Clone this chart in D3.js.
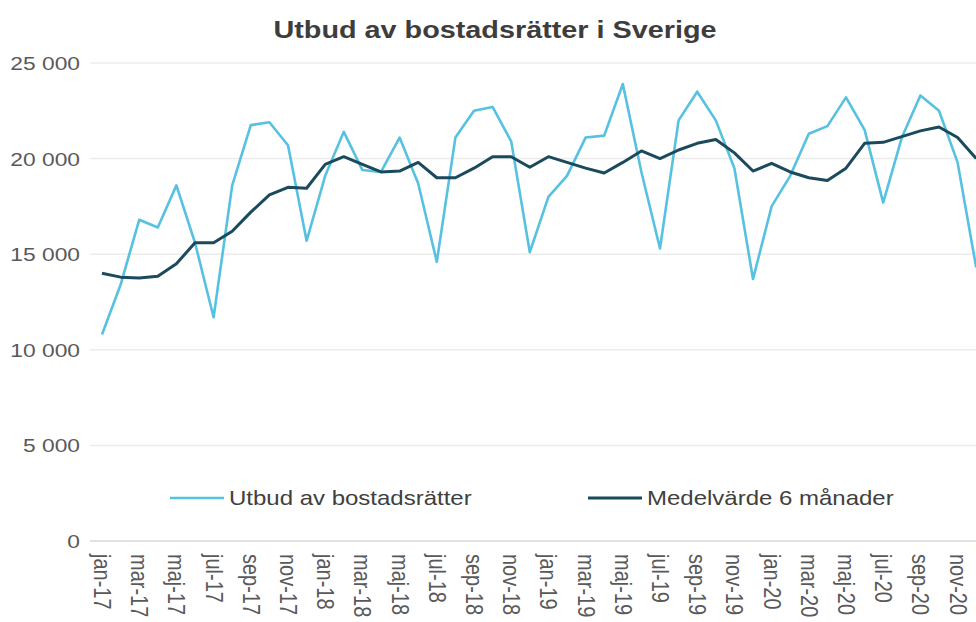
<!DOCTYPE html>
<html>
<head>
<meta charset="utf-8">
<script src="https://cdn.jsdelivr.net/npm/d3@7"></script>
<style>
  html, body { margin: 0; padding: 0; background: #fff; }
  svg { display: block; font-family: "Liberation Sans", Arial, sans-serif; }
</style>
</head>
<body>
<svg id="chart" width="976" height="622"></svg>
<script>
// month labels, jan-17 .. dec-20
var monthNames = ["jan", "feb", "mar", "apr", "maj", "jun", "jul", "aug", "sep", "okt", "nov", "dec"];
var years = ["17", "18", "19", "20"];
var months = [];
years.forEach(function(y){
    monthNames.forEach(function(m){ months.push(m + "-" + y); });
});

var utbud = [
    10800, 13400, 16800, 16400, 18600, 15600, 11700, 18600, 21750, 21900, 20700, 15700,
    19100, 21400, 19400, 19300, 21100, 18700, 14600, 21100, 22500, 22700, 20900, 15100,
    18000, 19100, 21100, 21200, 23900, 19300, 15300, 22000, 23500, 22000, 19500, 13700,
    17500, 19100, 21300, 21700, 23200, 21500, 17700, 21100, 23300, 22500, 19800, 14300
];
var medel = [
    14000, 13800, 13750, 13850, 14500, 15600, 15600, 16200, 17200, 18100, 18500, 18450,
    19700, 20100, 19700, 19300, 19350, 19800, 19000, 19000, 19500, 20100, 20100, 19550,
    20100, 19800, 19500, 19250, 19800, 20400, 20000, 20450, 20800, 21000, 20300, 19350,
    19750, 19300, 19000, 18850, 19500, 20800, 20850, 21150, 21450, 21650, 21100, 20000
];
var yTicks = [0, 5000, 10000, 15000, 20000, 25000];
var seriesNames = ["Utbud av bostadsrätter", "Medelvärde 6 månader"];

var colLight = "#56c1e0",
    colDark = "#1b4a5c",
    textCol = "#595959",
    sx = 1.2; // the picture is a bit wide, stretch text to match

var svg = d3.select("#chart");

var x = d3.scalePoint()
    .domain(months)
    .range([102, 102 + 47 * 18.6]);

var y = d3.scaleLinear()
    .domain([0, 25000])
    .range([541, 63]);

var fmt = function(v){ return d3.format(",")(v).replace(/,/g, " "); };

// gridlines
svg.append("g").selectAll("line")
    .data(yTicks)
    .enter().append("line")
    .attr("x1", 90).attr("x2", 976)
    .attr("y1", function(d){ return y(d); })
    .attr("y2", function(d){ return y(d); })
    .attr("stroke", function(d){ return d === 0 ? "#d9d9d9" : "#ececec"; })
    .attr("stroke-width", 1.5);

// y labels
svg.append("g").selectAll("text")
    .data(yTicks)
    .enter().append("text")
    .attr("transform", function(d){ return "translate(80," + (y(d) + 7) + ") scale(" + sx + ",1)"; })
    .attr("text-anchor", "end")
    .attr("font-size", 19)
    .attr("fill", textCol)
    .text(fmt);

// x axis, every other month
var xAxis = d3.axisBottom(x)
    .tickValues(months.filter(function(d, i){ return i % 2 === 0; }))
    .tickSize(0);

var gx = svg.append("g")
    .attr("transform", "translate(0,541)")
    .call(xAxis);
gx.select(".domain").remove();
gx.selectAll("text")
    .attr("transform", "scale(" + sx + ",1) rotate(90)")
    .attr("x", 13)
    .attr("y", 0)
    .attr("dy", "0.35em")
    .attr("text-anchor", "start")
    .attr("font-size", 20)
    .attr("font-family", "Liberation Sans, Arial, sans-serif")
    .attr("fill", textCol);

// lines
var line = d3.line()
    .x(function(d, i){ return x(months[i]); })
    .y(function(d){ return y(d); });

svg.append("path")
    .datum(utbud)
    .attr("d", line)
    .attr("fill", "none")
    .attr("stroke", colLight)
    .attr("stroke-width", 2.6)
    .attr("stroke-linejoin", "round");

svg.append("path")
    .datum(medel)
    .attr("d", line)
    .attr("fill", "none")
    .attr("stroke", colDark)
    .attr("stroke-width", 3)
    .attr("stroke-linejoin", "round");

// legend
var legend = [
    {name: seriesNames[0], color: colLight, x: 170, w: 2.6},
    {name: seriesNames[1], color: colDark, x: 588, w: 3}
];
var lg = svg.append("g").selectAll("g")
    .data(legend)
    .enter().append("g")
    .attr("transform", function(d){ return "translate(" + d.x + ",498)"; });
lg.append("line")
    .attr("x1", 0).attr("x2", 54)
    .attr("stroke", function(d){ return d.color; })
    .attr("stroke-width", function(d){ return d.w; });
lg.append("text")
    .attr("transform", "translate(59,7) scale(" + sx + ",1)")
    .attr("font-size", 20)
    .attr("fill", "#404040")
    .text(function(d){ return d.name; });

// title
svg.append("text")
    .attr("transform", "translate(495,38) scale(" + sx + ",1)")
    .attr("text-anchor", "middle")
    .attr("font-size", 24)
    .attr("font-weight", "bold")
    .attr("fill", "#3d3d3d")
    .text("Utbud av bostadsrätter i Sverige");
</script>
</body>
</html>
